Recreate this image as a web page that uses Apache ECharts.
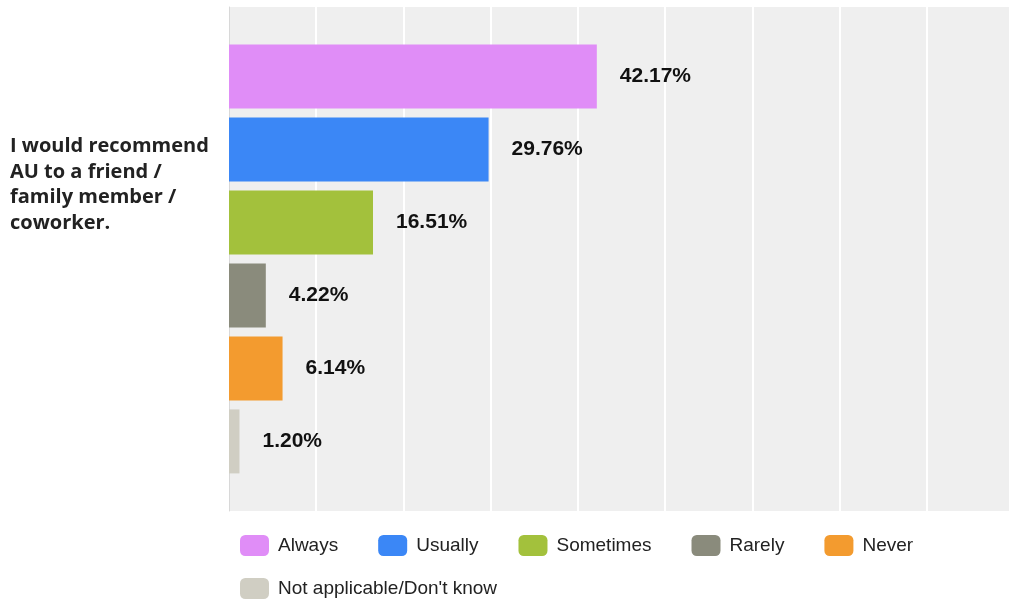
<!DOCTYPE html>
<html>
<head>
<meta charset="utf-8">
<title>Recommendation survey</title>
<script src="https://cdn.jsdelivr.net/npm/echarts@6/dist/echarts.min.js"></script>
<style>
  html, body { margin: 0; padding: 0; background: #ffffff; }
  #chart { width: 1009px; height: 600px; }
</style>
</head>
<body>
<div id="chart"></div>
<script>
// Survey statement (single category) and answer shares in percent
const categories = ['I would recommend\nAU to a friend /\nfamily member /\ncoworker.'];
const answerNames = ['Always', 'Usually', 'Sometimes', 'Rarely', 'Never', "Not applicable/Don't know"];
const answerValues = [42.17, 29.76, 16.51, 4.22, 6.14, 1.20];
const answerColors = ['#e08df7', '#3b87f6', '#a3c13c', '#8a8b7c', '#f39b2f', '#d0cec3'];
const xTicks = { min: 0, max: 90, interval: 10 };

const chart = echarts.init(document.getElementById('chart'), null, { renderer: 'canvas' });

const series = answerNames.map((name, i) => ({
  name: name,
  type: 'bar',
  data: [answerValues[i]],
  barWidth: 64,
  barGap: '14%',
  itemStyle: { color: answerColors[i] },
  label: {
    show: true,
    position: 'right',
    distance: 23,
    formatter: p => p.value.toFixed(2) + '%',
    fontFamily: '"Liberation Sans", Arial, sans-serif',
    fontWeight: 'bold',
    fontSize: 21,
    color: '#111111'
  }
}));

const legendText = {
  fontFamily: '"Liberation Sans", Arial, sans-serif',
  fontSize: 19,
  color: '#222222',
  padding: [0, 0, 0, 4]
};

chart.setOption({
  animation: false,
  backgroundColor: '#ffffff',
  grid: {
    left: 229, top: 7, width: 785, height: 504,
    outerBoundsMode: 'none',
    containLabel: false,
    show: true, backgroundColor: '#efefef', borderWidth: 0
  },
  xAxis: {
    type: 'value',
    min: xTicks.min, max: xTicks.max, interval: xTicks.interval,
    axisLabel: { show: false },
    axisTick: { show: false },
    axisLine: { show: false },
    splitLine: { show: true, lineStyle: { color: '#ffffff', width: 2 } }
  },
  yAxis: {
    type: 'category',
    data: categories,
    inverse: true,
    axisTick: { show: false },
    axisLine: { show: true, lineStyle: { color: '#d8d8d8', width: 1 } },
    axisLabel: {
      align: 'left',
      margin: 219,
      // statement lines, followed by a spacer line that lifts the block upward
      formatter: v => v.split('\n').map(s => '{t|' + s + '}').join('\n') + '\n{gap| }',
      rich: {
        t: {
          fontFamily: '"Open Sans", sans-serif',
          fontWeight: 'bold',
          fontSize: 20,
          lineHeight: 25.5,
          color: '#222222'
        },
        gap: { fontSize: 1, lineHeight: 148, height: 148 }
      }
    }
  },
  legend: [
    {
      data: answerNames.slice(0, 5),
      left: 240, top: 535, padding: 0,
      itemWidth: 29, itemHeight: 21, itemGap: 40,
      icon: 'roundRect',
      textStyle: legendText
    },
    {
      data: answerNames.slice(5),
      left: 240, top: 578, padding: 0,
      itemWidth: 29, itemHeight: 21, itemGap: 40,
      icon: 'roundRect',
      textStyle: legendText
    }
  ],
  series: series
});
</script>
</body>
</html>
